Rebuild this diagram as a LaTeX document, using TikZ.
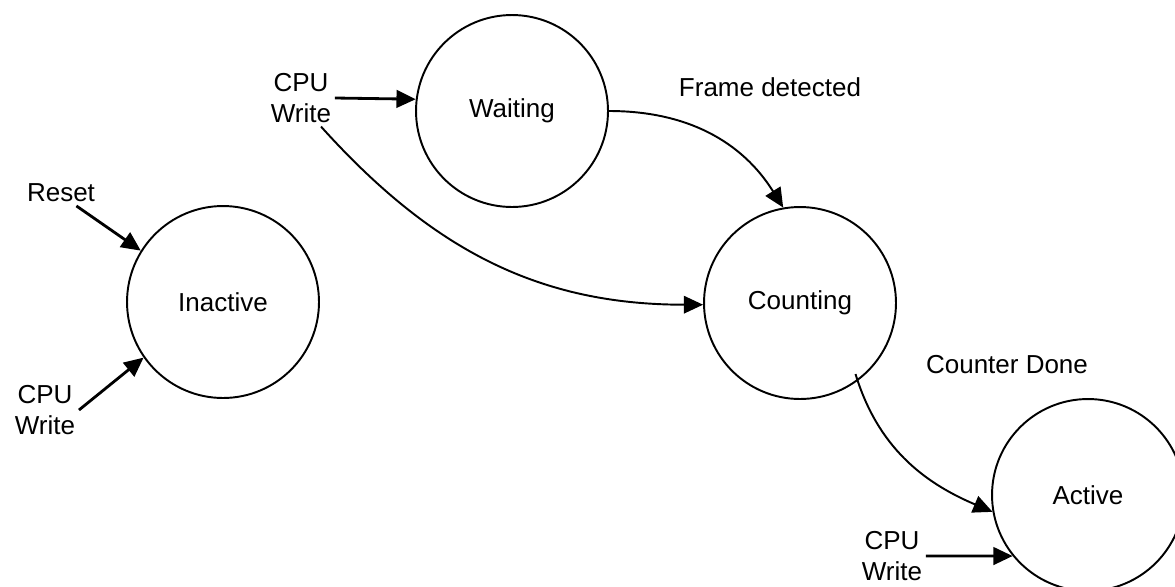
\documentclass[tikz,border=0pt]{standalone}
\usepackage{fontspec}
\setmainfont{Liberation Sans}
\usetikzlibrary{arrows.meta,calc}

\begin{document}
\begin{tikzpicture}[
        %We set the units (one pixel) and define some styles
        x=0.02cm, y=-0.02cm,
        state/.style={draw, circle, line width=1.1pt, minimum size=3.84cm, inner sep=0pt},
        transition/.style={line width=1.1pt, -{Triangle[length=11pt,width=10pt]}},
        trigger/.style={line width=1.6pt, -{Triangle[length=11pt,width=10pt]}},
        event/.style={align=center, inner sep=2pt},
        every node/.style={color=black, font=\fontsize{14.8}{17.6}\selectfont}
     ]
\begin{scope}
    % page frame
    \useasboundingbox (0,0) rectangle (1175,586);
    \clip (0,0) rectangle (1175,586);
    % states are placed
    \node[state] (inactive) at (223,302) {Inactive};
    \node[state] (waiting)  at (512,111) {Waiting};
    \node[state] (counting) at (800,303) {Counting};
    \node[state] (active)   at (1088,495) {Active};
    % events are placed
    \node[event] (reset) at (61,193) {Reset};
    \node[event] (cpua)  at (45,410) {CPU\\Write};
    \node[event] (cpub)  at (301,98) {CPU\\Write};
    \node[event] (cpuc)  at (892,556) {CPU\\Write};
    \node[event] (frame) at (770,87) {Frame detected};
    \node[event] (done)  at (1007,365) {Counter Done};
    % short arrows into the states
    \draw[trigger] (reset.-40) -- (inactive.148);
    \draw[trigger] (cpua.east) -- (inactive.215);
    \draw[trigger] (cpub.east) -- (waiting.173);
    \draw[trigger] (cpuc.east) -- (active.219);
    % transitions between states
    \draw[transition] (cpub.-55) to[out=-48,in=180] (counting.181);
    \draw[transition] (waiting.0) to[out=0,in=122] (counting.100);
    \coordinate (leave) at ($(counting.center)!0.93!(counting.-52)$);
    \draw[transition] (leave) to[out=-73,in=157] (active.190);
\end{scope}
\end{tikzpicture}
\end{document}
